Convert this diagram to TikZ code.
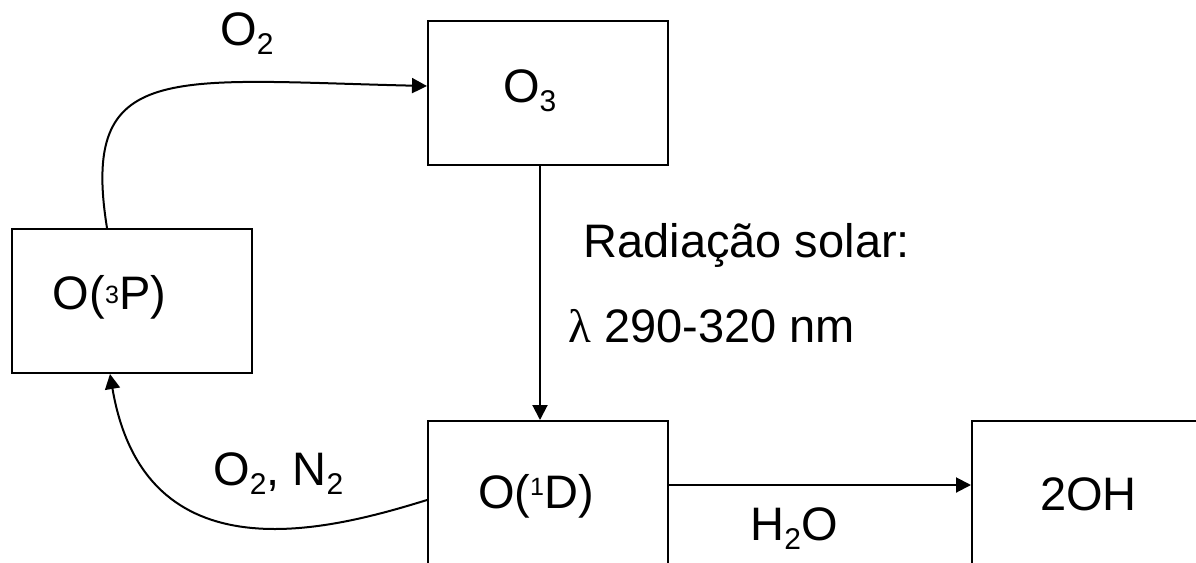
\documentclass[tikz,border=0pt]{standalone}
\usepackage{fontspec}
\setmainfont{Liberation Sans}
\newfontfamily\greekfont{Liberation Serif}
\usetikzlibrary{arrows.meta}

\newcommand{\chemsub}[1]{\raisebox{-4.5pt}{\fontsize{15pt}{15pt}\selectfont #1}}
\newcommand{\chemsup}[2][3pt]{\raisebox{#1}{\fontsize{12.5pt}{13pt}\selectfont #2}}

\begin{document}
\begin{tikzpicture}[
    x=0.5pt, y=-0.5pt,
    box/.style={rectangle, draw=black, line width=1pt, minimum width=120pt,
        minimum height=72pt, align=left, font=\fontsize{23.5pt}{28pt}\selectfont},
    lbl/.style={inner sep=0pt, anchor=base west, font=\fontsize{23.5pt}{28pt}\selectfont},
    flow/.style={-{Triangle[length=7.5pt, width=7.5pt]}, line width=1pt}
]

% --- Marco ---
\useasboundingbox (0,0) rectangle (1196,563);
\clip (0,0) rectangle (1196,563);

% --- Caixas ---
\node[box, text width=45pt, inner xsep=37.5pt, text height=12pt, text depth=3pt] (ozone) at (548,93) {O\chemsub{3}};
\node[box, text width=79pt, inner xsep=20.5pt, text height=11.5pt, text depth=3.5pt] (o3p) at (132,301) {O(\chemsup[3pt]{3}P)};
\node[box, text width=70pt, inner xsep=25pt, text height=16pt, text depth=1pt] (o1d) at (548,493) {O(\chemsup[6.5pt]{1}D)};
\node[box, text width=52pt, inner xsep=34pt, text height=17pt, text depth=0pt] (oh) at (1092,493) {2OH};

% --- Rótulos ---
\node[lbl] (o2lbl) at (220,45) {O\chemsub{2}};
\node[lbl] (radlbl) at (583,257) {Radiação solar:};
\node[lbl] (lambdalbl) at (568,342) {{\greekfont λ} 290-320 nm};
\node[lbl] (quenchlbl) at (213,485) {O\chemsub{2}, N\chemsub{2}};
\node[lbl] (waterlbl) at (750,540) {H\chemsub{2}O};

% --- Setas ---
\draw[flow] ([xshift=-12.5pt]o3p.north) .. controls (80,60) and (170,80) .. ([yshift=3.5pt]ozone.west);
\draw[flow] ([xshift=-4pt]ozone.south) -- ([xshift=-4pt]o1d.north);
\draw[flow] ([yshift=4pt]o1d.east) -- ([yshift=4pt]oh.west);
\draw[flow] ([yshift=-3.5pt]o1d.west) .. controls (330,530) and (145,580) .. ([xshift=-11pt]o3p.south);

\end{tikzpicture}
\end{document}
